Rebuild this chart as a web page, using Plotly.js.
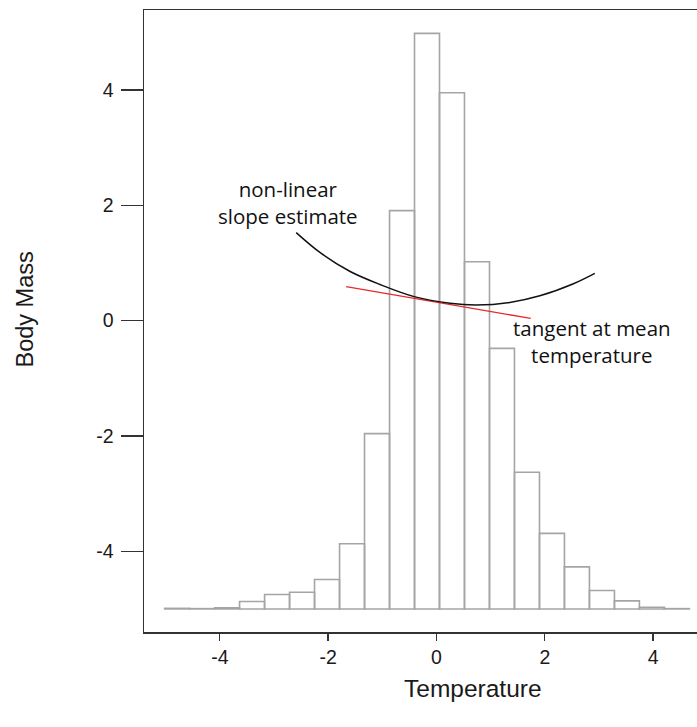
<!DOCTYPE html>
<html>
<head>
<meta charset="utf-8">
<script src="https://cdn.plot.ly/plotly-3.0.1.min.js"></script>
<style>
  html, body { margin: 0; padding: 0; overflow: hidden; background: #fff; }
  #chart { width: 810px; height: 727px; }
</style>
</head>
<body>
<div id="chart"></div>
<script>
// Histogram of temperature (bar centres, bar width, bar tops on Body Mass scale)
const binCenters = [-4.789, -4.328, -3.866, -3.405, -2.943, -2.482, -2.021, -1.559, -1.098, -0.636,
                    -0.175, 0.286, 0.748, 1.209, 1.671, 2.132, 2.593, 3.055, 3.516, 3.978, 4.439];
const binWidth = 0.4614;
const barBase = -5;
const barTops = [-4.99, -4.995, -4.98, -4.87, -4.75, -4.71, -4.49, -3.87, -1.96, 1.906,
                 4.98, 3.95, 1.02, -0.483, -2.63, -3.69, -4.27, -4.68, -4.86, -4.97, -4.995];

// Non-linear slope estimate (black curve)
const curveX = [-2.590, -2.140, -1.594, -1.041, -0.395, 0.251, 0.731, 1.354, 1.908, 2.517, 2.923];
const curveY = [1.524, 1.172, 0.851, 0.625, 0.411, 0.299, 0.269, 0.314, 0.429, 0.634, 0.819];

// Tangent at mean temperature (red line)
const tangentX = [-1.668, 1.740];
const tangentY = [0.587, 0.038];

const yTicks = [-4, -2, 0, 2, 4];
const xTicks = [-4, -2, 0, 2, 4];

const barHeights = barTops.map(t => t - barBase);

const traces = [
  {
    type: 'bar',
    x: binCenters,
    y: barHeights,
    base: barBase,
    width: binWidth,
    marker: { color: 'rgba(255,255,255,0)', line: { color: 'rgb(165,165,165)', width: 1.6 } },
    hoverinfo: 'skip'
  },
  {
    type: 'scatter', mode: 'lines',
    x: tangentX, y: tangentY,
    line: { color: 'rgb(235,40,40)', width: 1.3 },
    hoverinfo: 'skip'
  },
  {
    type: 'scatter', mode: 'lines',
    x: curveX, y: curveY,
    line: { color: '#111', width: 1.5, shape: 'spline', smoothing: 1 },
    hoverinfo: 'skip'
  }
];

const tickFont = { family: 'Liberation Sans, Arial, sans-serif', size: 19.5, color: '#1a1a1a' };
const annFont = { family: 'Open Sans, Noto Sans, sans-serif', size: 20.5, color: '#111' };

const layout = {
  width: 810, height: 727,
  margin: { l: 143.6, r: 9, t: 10.3, b: 95.3 },
  paper_bgcolor: '#fff', plot_bgcolor: '#fff',
  showlegend: false,
  bargap: 0,
  xaxis: {
    range: [-5.40, 6.73],
    tickvals: xTicks, ticktext: xTicks.map(String),
    ticks: 'outside', ticklen: 7, tickwidth: 1.3, tickcolor: '#333',
    showline: true, linecolor: '#333', linewidth: 1.5, mirror: true,
    showgrid: false, zeroline: false,
    tickfont: tickFont
  },
  yaxis: {
    range: [-5.40, 5.385],
    tickvals: yTicks, ticktext: yTicks.map(String),
    ticks: 'outside', ticklen: 22, tickwidth: 1.3, tickcolor: '#333',
    ticklabelstandoff: 3,
    showline: true, linecolor: '#333', linewidth: 1.5, mirror: true,
    showgrid: false, zeroline: false,
    tickfont: tickFont
  },
  annotations: [
    { text: 'non-linear<br>slope estimate', x: -2.738, y: 2.049, xref: 'x', yref: 'y',
      showarrow: false, font: annFont, align: 'center' },
    { text: 'tangent at mean<br>temperature', x: 2.869, y: -0.365, xref: 'x', yref: 'y',
      showarrow: false, font: annFont, align: 'center' },
    { text: 'Temperature', x: 0.5005, y: -0.0915, xref: 'paper', yref: 'paper',
      xanchor: 'center', yanchor: 'middle', showarrow: false,
      font: { family: 'Liberation Sans, Arial, sans-serif', size: 24.5, color: '#1a1a1a' } },
    { text: 'Body Mass', x: -0.1804, y: 0.5193, xref: 'paper', yref: 'paper',
      xanchor: 'center', yanchor: 'middle', textangle: -90, showarrow: false,
      font: { family: 'Liberation Sans, Arial, sans-serif', size: 23.5, color: '#1a1a1a' } }
  ]
};

Plotly.newPlot('chart', traces, layout, { displayModeBar: false, staticPlot: true });
</script>
</body>
</html>
